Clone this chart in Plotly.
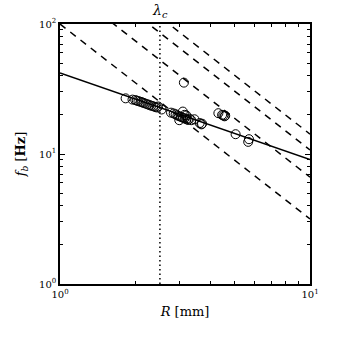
import plotly.graph_objects as go

# measured bursting frequency vs radius
R_data = [1.83, 1.95, 2.0, 2.03, 2.06, 2.1, 2.13, 2.16, 2.2, 2.24, 2.28, 2.32, 2.36, 2.4, 2.44, 2.47, 2.55,
          2.78, 2.85, 2.9, 2.95, 3.0, 3.05, 3.1, 3.15, 3.1, 3.2, 3.25, 3.3, 3.35, 3.2, 3.15, 3.0, 3.45,
          3.62, 3.68, 3.7,
          4.3, 4.45, 4.5, 4.55, 4.58,
          5.04, 5.66, 5.7, 3.13]
f_data = [26.8, 26.2, 26.0, 25.7, 25.5, 25.2, 25.0, 24.7, 24.4, 24.1, 23.8, 23.5, 23.3, 23.0, 22.8, 23.2, 22.0,
          20.8, 20.5, 20.2, 19.8, 19.5, 19.3, 19.0, 18.8, 21.2, 18.5, 18.3, 18.7, 18.2, 19.8, 20.0, 18.2, 18.5,
          17.3, 16.9, 17.1,
          20.6, 20.0, 19.8, 19.5, 19.7,
          14.2, 12.4, 13.0, 35.4]

# fit lines
R_line = [1, 10]
fit_coef = 42.0
fit_exp = -2 / 3
dash_coefs = [100, 210, 340, 450]
dash_exp = -1.5
lambda_c = 2.51

fig = go.Figure()
for c in dash_coefs:
    fig.add_trace(go.Scatter(x=R_line, y=[c * r ** dash_exp for r in R_line], mode="lines",
                             line=dict(color="black", width=1.5, dash="7px,6px"), showlegend=False))
fig.add_trace(go.Scatter(x=R_line, y=[fit_coef * r ** fit_exp for r in R_line], mode="lines",
                         line=dict(color="black", width=1.5), showlegend=False))
fig.add_trace(go.Scatter(x=R_data, y=f_data, mode="markers",
                         marker=dict(symbol="circle-open", size=9, color="black", line=dict(width=1)),
                         showlegend=False))
fig.add_shape(type="line", x0=lambda_c, x1=lambda_c, y0=0, y1=1, xref="x", yref="paper",
              line=dict(color="black", width=1.5, dash="1.5px,3px"))
fig.add_annotation(x=0.4, y=1.0, xref="x", yref="paper", yanchor="bottom", yshift=2,
                   text="<i>λ</i><sub><i>c</i></sub>", showarrow=False,
                   font=dict(size=14, color="black"))

minor_x = [2, 3, 4, 5, 6, 7, 8, 9]
minor_y = [2, 3, 4, 5, 6, 7, 8, 9, 20, 30, 40, 50, 60, 70, 80, 90]
axis_font = dict(family="DejaVu Serif", size=10, color="black")
fig.update_xaxes(type="log", range=[0, 1], tickvals=[1, 10], ticktext=["10<sup>0</sup>", "10<sup>1</sup>"],
                 ticks="inside", ticklen=5, tickcolor="black", showline=True, linecolor="black", linewidth=1.5,
                 mirror="ticks", showgrid=False, zeroline=False, tickfont=axis_font, automargin=False,
                 minor=dict(tickvals=minor_x, ticks="inside", ticklen=3, tickcolor="black", showgrid=False),
                 title=dict(text="<i>R</i> [mm]", font=dict(family="DejaVu Serif", size=13, color="black"),
                            standoff=8))
fig.update_yaxes(type="log", range=[0, 2], tickvals=[1, 10, 100],
                 ticktext=["10<sup>0</sup>", "10<sup>1</sup>", "10<sup>2</sup>"],
                 ticks="inside", ticklen=5, tickcolor="black", showline=True, linecolor="black", linewidth=1.5,
                 mirror="ticks", showgrid=False, zeroline=False, tickfont=axis_font, automargin=False,
                 minor=dict(tickvals=minor_y, ticks="inside", ticklen=3, tickcolor="black", showgrid=False),
                 title=dict(text="<i>f</i><sub><i>b</i></sub> [<b>Hz</b>]",
                            font=dict(family="DejaVu Serif", size=13, color="black"), standoff=10))
fig.update_layout(width=338, height=338, margin=dict(l=60, r=28, t=24, b=54),
                  plot_bgcolor="white", paper_bgcolor="white", font=dict(family="DejaVu Serif"))
# drop the page's default body margin so the figure sits at the window's corner
fig.write_html("out.html", config={"displayModeBar": False},
               post_script="document.body.style.margin='0';")
